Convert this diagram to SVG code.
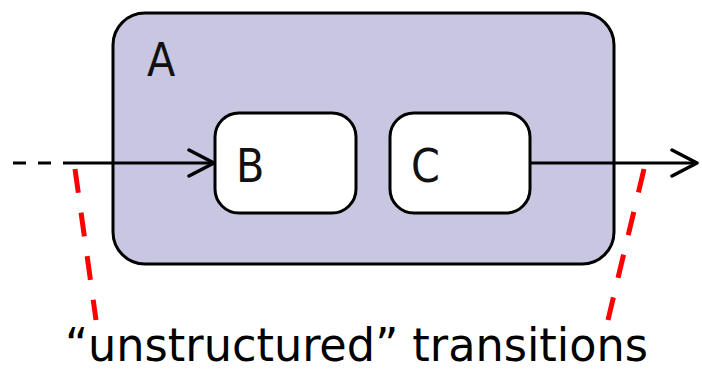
<svg xmlns="http://www.w3.org/2000/svg" width="702" height="372" viewBox="0 0 702 372">
<style>
.state{stroke:#000;stroke-width:3}
.lbl{font-family:"DejaVu Sans Condensed","DejaVu Sans",sans-serif;font-size:46px;fill:#111}
.edge{stroke:#000;stroke-width:3;fill:none}
.red{stroke:#ff0000;stroke-width:5;stroke-dasharray:24 20;fill:none}
</style>
<defs>
<marker id="arr" viewBox="0 0 30 30" refX="28" refY="15" markerWidth="30" markerHeight="30" markerUnits="userSpaceOnUse" orient="auto">
<path d="M3,2 L28,15 L3,28" fill="none" stroke="#000" stroke-width="3.5" stroke-linecap="round" stroke-linejoin="round"/>
</marker>
</defs>
<rect width="702" height="372" fill="#fff"/>
<g id="A">
<rect class="state" x="113" y="13" width="501" height="251" rx="32" fill="#c8c6e0"/>
<text class="lbl" x="147" y="76">A</text>
</g>
<g id="B">
<rect class="state" x="215" y="113" width="141" height="100" rx="24" fill="#fff"/>
<text class="lbl" x="236" y="182">B</text>
</g>
<g id="C">
<rect class="state" x="390" y="113" width="140" height="100" rx="24" fill="#fff"/>
<text class="lbl" x="411" y="182">C</text>
</g>
<g id="connectors">
<line class="edge" x1="13" y1="163" x2="65" y2="163" stroke-dasharray="13 12"/>
<line class="edge" x1="65" y1="163" x2="214" y2="163" marker-end="url(#arr)"/>
<line class="edge" x1="530" y1="163" x2="697" y2="163" marker-end="url(#arr)"/>
</g>
<g id="annotation">
<line class="red" x1="75" y1="169" x2="96" y2="320"/>
<line class="red" x1="644" y1="169" x2="608" y2="320"/>
<text x="65" y="361" textLength="583" lengthAdjust="spacingAndGlyphs" font-family="DejaVu Sans Condensed, DejaVu Sans, sans-serif" font-size="46" fill="#000">“unstructured” transitions</text>
</g>
</svg>
